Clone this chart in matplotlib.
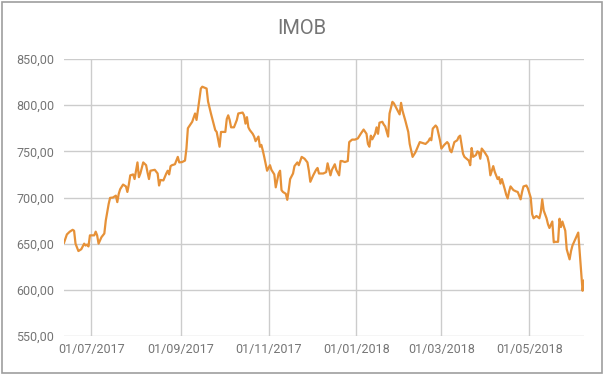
import pandas as pd
import matplotlib.pyplot as plt
import matplotlib.dates as mdates
from matplotlib.ticker import FuncFormatter, MultipleLocator
from matplotlib.patches import Rectangle

# IMOB closing values
dates = [
    "2017-06-12", "2017-06-14", "2017-06-16", "2017-06-18", "2017-06-19", "2017-06-20",
    "2017-06-22", "2017-06-24", "2017-06-26", "2017-06-27", "2017-06-28", "2017-06-29",
    "2017-06-30", "2017-07-03", "2017-07-04", "2017-07-05", "2017-07-06", "2017-07-08",
    "2017-07-10", "2017-07-11", "2017-07-13", "2017-07-14", "2017-07-16", "2017-07-18",
    "2017-07-19", "2017-07-20", "2017-07-21", "2017-07-23", "2017-07-25", "2017-07-26",
    "2017-07-27", "2017-07-28", "2017-07-30", "2017-07-31", "2017-08-02", "2017-08-03",
    "2017-08-04", "2017-08-05", "2017-08-06", "2017-08-08", "2017-08-09", "2017-08-10",
    "2017-08-11", "2017-08-14", "2017-08-16", "2017-08-17", "2017-08-18", "2017-08-20",
    "2017-08-22", "2017-08-23", "2017-08-24", "2017-08-25", "2017-08-26", "2017-08-28",
    "2017-08-30", "2017-08-31", "2017-09-02", "2017-09-04", "2017-09-05", "2017-09-06",
    "2017-09-09", "2017-09-11", "2017-09-12", "2017-09-13", "2017-09-15", "2017-09-16",
    "2017-09-19", "2017-09-20", "2017-09-22", "2017-09-25", "2017-09-26", "2017-09-28",
    "2017-09-29", "2017-09-30", "2017-10-02", "2017-10-03", "2017-10-04", "2017-10-05",
    "2017-10-06", "2017-10-08", "2017-10-10", "2017-10-11", "2017-10-14", "2017-10-15",
    "2017-10-16", "2017-10-17", "2017-10-18", "2017-10-19", "2017-10-21", "2017-10-22",
    "2017-10-23", "2017-10-25", "2017-10-26", "2017-10-27", "2017-10-28", "2017-10-29",
    "2017-10-31", "2017-11-02", "2017-11-03", "2017-11-05", "2017-11-06", "2017-11-08",
    "2017-11-09", "2017-11-10", "2017-11-11", "2017-11-13", "2017-11-14", "2017-11-15",
    "2017-11-16", "2017-11-18", "2017-11-19", "2017-11-21", "2017-11-22", "2017-11-24",
    "2017-11-26", "2017-11-28", "2017-11-29", "2017-11-30", "2017-12-02", "2017-12-04",
    "2017-12-05", "2017-12-06", "2017-12-08", "2017-12-09", "2017-12-11", "2017-12-12",
    "2017-12-14", "2017-12-15", "2017-12-17", "2017-12-18", "2017-12-20", "2017-12-21",
    "2017-12-22", "2017-12-24", "2017-12-26", "2017-12-27", "2017-12-29", "2017-12-31",
    "2018-01-02", "2018-01-04", "2018-01-06", "2018-01-08", "2018-01-09", "2018-01-10",
    "2018-01-11", "2018-01-12", "2018-01-14", "2018-01-15", "2018-01-16", "2018-01-17",
    "2018-01-19", "2018-01-20", "2018-01-21", "2018-01-23", "2018-01-24", "2018-01-26",
    "2018-01-27", "2018-01-29", "2018-01-31", "2018-02-01", "2018-02-02", "2018-02-04",
    "2018-02-06", "2018-02-07", "2018-02-09", "2018-02-11", "2018-02-13", "2018-02-14",
    "2018-02-16", "2018-02-18", "2018-02-20", "2018-02-21", "2018-02-22", "2018-02-23",
    "2018-02-25", "2018-02-26", "2018-02-28", "2018-03-01", "2018-03-03", "2018-03-05",
    "2018-03-06", "2018-03-07", "2018-03-08", "2018-03-10", "2018-03-12", "2018-03-13",
    "2018-03-14", "2018-03-16", "2018-03-17", "2018-03-20", "2018-03-21", "2018-03-22",
    "2018-03-23", "2018-03-25", "2018-03-26", "2018-03-27", "2018-03-28", "2018-03-29",
    "2018-03-31", "2018-04-02", "2018-04-03", "2018-04-04", "2018-04-06", "2018-04-07",
    "2018-04-09", "2018-04-10", "2018-04-11", "2018-04-12", "2018-04-14", "2018-04-15",
    "2018-04-16", "2018-04-17", "2018-04-18", "2018-04-20", "2018-04-22", "2018-04-23",
    "2018-04-25", "2018-04-26", "2018-04-27", "2018-04-29", "2018-04-30", "2018-05-02",
    "2018-05-03", "2018-05-04", "2018-05-06", "2018-05-08", "2018-05-09", "2018-05-10",
    "2018-05-11", "2018-05-13", "2018-05-14", "2018-05-15", "2018-05-17", "2018-05-18",
    "2018-05-19", "2018-05-21", "2018-05-22", "2018-05-23", "2018-05-24", "2018-05-26",
    "2018-05-27", "2018-05-29", "2018-05-30", "2018-05-31", "2018-06-02", "2018-06-04",
    "2018-06-05", "2018-06-06", "2018-06-07", "2018-06-08",
]
imob = [
    651, 660, 663, 665, 664, 650,
    642, 644, 650, 648, 649, 647,
    659, 659, 663, 659, 650, 657,
    661, 675, 693, 699.6, 700, 702,
    695, 704, 709, 714, 712, 706,
    714, 724, 725, 720, 738, 722,
    726, 732, 738, 735, 727, 720,
    729, 730, 726, 713, 719, 718.5,
    726, 729, 725, 734, 735, 736,
    744, 738, 738.4, 740, 753, 775,
    782, 791, 784, 795, 818, 820,
    818, 804, 791, 773, 771, 755,
    771, 771, 771, 785, 789, 784,
    776, 776, 784, 791, 792, 789,
    780, 787, 776, 773, 769, 766,
    761, 766, 755, 757, 751, 744,
    729, 735, 730, 725, 711, 726,
    729, 708, 706, 704, 697.5, 708,
    720, 726, 734, 738, 735, 744,
    742, 738, 729, 717, 724, 730,
    732, 726, 726, 726, 727.5, 737,
    724, 730, 736, 730, 724, 739.5,
    739.5, 738.4, 739.5, 760, 762.7, 762.7,
    764, 769, 773.6, 769, 758, 755,
    767, 763, 769, 776, 769, 781,
    782, 779, 777, 766, 791, 803.6,
    802, 796, 790, 802.5, 794, 783,
    771, 758, 744, 749, 756.5, 760,
    759, 758, 761, 764, 762, 774.6,
    778, 776, 762, 753, 757, 760,
    758, 751, 749, 760, 762, 765.6,
    767, 747.5, 744, 740, 735, 753.6,
    744, 746, 750, 749, 742, 753,
    749, 744, 737, 724, 734, 728,
    720, 722, 715, 720, 709, 703,
    699, 706.5, 712, 708, 706.5, 706,
    698, 706, 712, 713, 710, 700,
    682, 677.5, 680, 677.5, 684, 698,
    686, 677.5, 671, 667, 674, 651.5,
    652, 652, 677, 668, 674, 664,
    644, 633, 642, 648, 655, 662,
    641, 619, 599, 610,
]

df = pd.DataFrame({"date": pd.to_datetime(dates), "IMOB": imob})

gray_txt = "#757575"
grid_c = "#cccccc"
plt.rcParams['font.family'] = ['Roboto', 'DejaVu Sans']

fig = plt.figure(figsize=(6.04, 3.75), dpi=100)
ax = fig.add_axes([64/604, 1-336/375, (584-64)/604, (336-59)/375])

ax.plot(df["date"], df["IMOB"], color="#e69138", linewidth=1.6, solid_joinstyle="round")

ax.set_xlim(df["date"].iloc[0], df["date"].iloc[-1])
ax.set_ylim(550, 850)
ax.yaxis.set_major_locator(MultipleLocator(50))
ax.yaxis.set_major_formatter(FuncFormatter(lambda v, p: ("%.2f" % v).replace(".", ",")))
ax.xaxis.set_major_locator(mdates.MonthLocator(bymonth=[1, 3, 5, 7, 9, 11]))
ax.xaxis.set_major_formatter(mdates.DateFormatter("%d/%m/%Y"))

ax.grid(True, color=grid_c, linewidth=1)
ax.set_axisbelow(True)
for s in ax.spines.values():
    s.set_visible(False)
ax.tick_params(length=0, labelsize=9, labelcolor=gray_txt)
ax.tick_params(axis="y", pad=7)
ax.tick_params(axis="x", pad=5)

fig.text(0.5, 1-29/375, "IMOB", ha="center", va="center", fontsize=14.5, color=gray_txt)

# chart frame
fig.patches.append(Rectangle((2/604, 2/375), 600/604, 371/375, transform=fig.transFigure,
                             fill=False, edgecolor="#9e9e9e", linewidth=1.2))

fig.savefig("out.png", dpi=100)
